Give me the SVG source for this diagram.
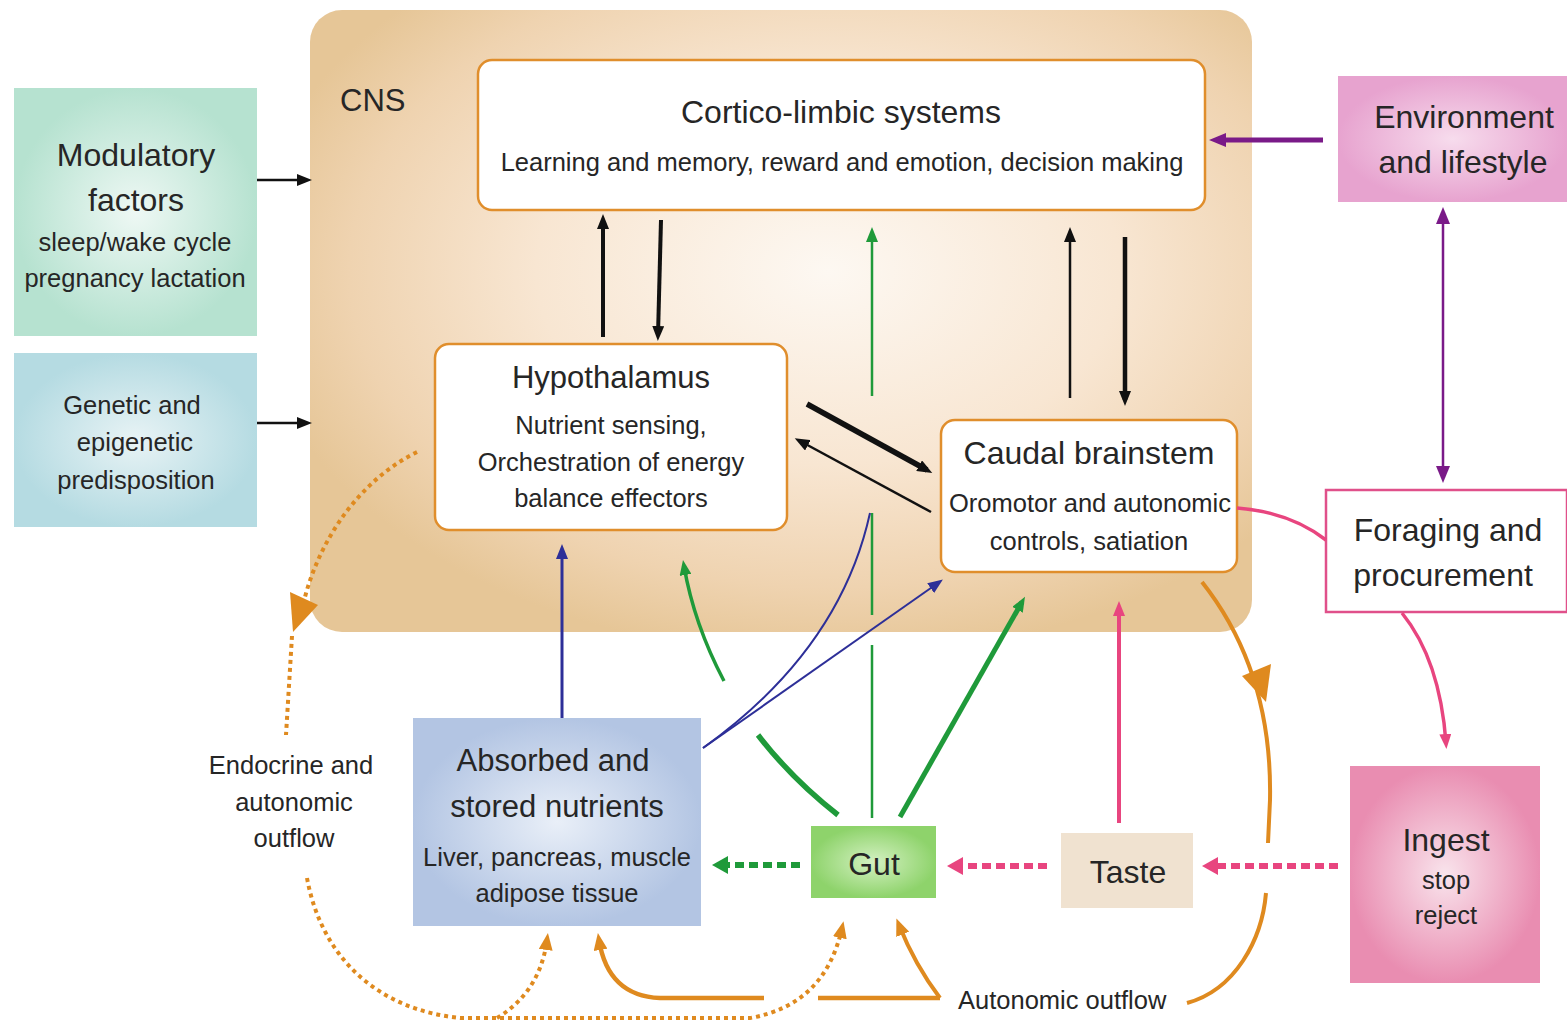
<svg xmlns="http://www.w3.org/2000/svg" width="1567" height="1024" viewBox="0 0 1567 1024">
<style>
text{font-family:"Liberation Sans",Arial,sans-serif;fill:#262626;text-anchor:middle}
.t{font-size:31px}
.b{font-size:25.5px}
.inner{fill:#fff;stroke:#e08e2c;stroke-width:2.5}
.k{stroke:#111;fill:none}
.g{stroke:#1f9a3a;fill:none}
.bl{stroke:#2d2f98;fill:none}
.pk{stroke:#e8457f;fill:none}
.pu{stroke:#7a1a88;fill:none}
.o{stroke:#df8a1f;fill:none}
.dot{stroke-dasharray:4 4}
.pdot{stroke-dasharray:9 5}
</style>
<defs>
<radialGradient id="cns" cx="0.55" cy="0.42" r="0.62">
<stop offset="0" stop-color="#fdf8f2"/>
<stop offset="0.5" stop-color="#f8e6d2"/>
<stop offset="0.82" stop-color="#efd3b0"/>
<stop offset="1" stop-color="#e6c697"/>
</radialGradient>
<radialGradient id="gMod"><stop offset="0" stop-color="#eef8f4"/><stop offset="1" stop-color="#b6e2d0"/></radialGradient>
<radialGradient id="gGen"><stop offset="0" stop-color="#e8f3f5"/><stop offset="1" stop-color="#b5dbe2"/></radialGradient>
<radialGradient id="gEnv"><stop offset="0" stop-color="#f7dced"/><stop offset="1" stop-color="#e7a3cf"/></radialGradient>
<radialGradient id="gIng"><stop offset="0" stop-color="#f9e4ec"/><stop offset="1" stop-color="#e98db1"/></radialGradient>
<radialGradient id="gAbs"><stop offset="0" stop-color="#e9eff8"/><stop offset="1" stop-color="#b3c5e3"/></radialGradient>
<radialGradient id="gGut"><stop offset="0" stop-color="#d4f1c2"/><stop offset="1" stop-color="#8ed36b"/></radialGradient>
<marker id="mk" markerUnits="userSpaceOnUse" markerWidth="16" markerHeight="12" refX="9" refY="6" orient="auto"><path d="M0,0 L15,6 L0,12 z" fill="#111"/></marker>
<marker id="mg" markerUnits="userSpaceOnUse" markerWidth="16" markerHeight="12" refX="9" refY="6" orient="auto"><path d="M0,0 L15,6 L0,12 z" fill="#1f9a3a"/></marker>
<marker id="mgd" markerUnits="userSpaceOnUse" markerWidth="18" markerHeight="18" refX="6" refY="9" orient="auto"><path d="M0,0 L16,9 L0,18 z" fill="#1f9a3a"/></marker>
<marker id="mb" markerUnits="userSpaceOnUse" markerWidth="16" markerHeight="12" refX="9" refY="6" orient="auto"><path d="M0,0 L15,6 L0,12 z" fill="#2d2f98"/></marker>
<marker id="mp" markerUnits="userSpaceOnUse" markerWidth="16" markerHeight="12" refX="9" refY="6" orient="auto"><path d="M0,0 L15,6 L0,12 z" fill="#e8457f"/></marker>
<marker id="mpd" markerUnits="userSpaceOnUse" markerWidth="18" markerHeight="18" refX="6" refY="9" orient="auto"><path d="M0,0 L16,9 L0,18 z" fill="#e8457f"/></marker>
<marker id="mu" markerUnits="userSpaceOnUse" markerWidth="18" markerHeight="14" refX="10" refY="7" orient="auto-start-reverse"><path d="M0,0 L17,7 L0,14 z" fill="#7a1a88"/></marker>
<marker id="mo" markerUnits="userSpaceOnUse" markerWidth="18" markerHeight="14" refX="10" refY="7" orient="auto"><path d="M0,0 L17,7 L0,14 z" fill="#df8a1f"/></marker>
</defs>
<rect width="1567" height="1024" fill="#fff"/>

<g id="cns">
<rect x="310" y="10" width="942" height="622" rx="32" fill="url(#cns)"/>
<text x="340" y="111" style="font-size:31px;text-anchor:start">CNS</text>
</g>

<g id="cortico">
<rect class="inner" x="478" y="60" width="727" height="150" rx="14"/>
<text class="t" x="841" y="123" style="font-size:32px">Cortico-limbic systems</text>
<text class="b" x="842" y="171">Learning and memory, reward and emotion, decision making</text>
</g>

<g id="hypothalamus">
<rect class="inner" x="435" y="344" width="352" height="186" rx="14"/>
<text class="t" x="611" y="388">Hypothalamus</text>
<text class="b" x="611" y="434">Nutrient sensing,</text>
<text class="b" x="611" y="471">Orchestration of energy</text>
<text class="b" x="611" y="507">balance effectors</text>
</g>

<g id="caudal">
<rect class="inner" x="941" y="420" width="296" height="152" rx="14"/>
<text class="t" x="1089" y="464" style="font-size:32px">Caudal brainstem</text>
<text class="b" x="1090" y="512">Oromotor and autonomic</text>
<text class="b" x="1089" y="550">controls, satiation</text>
</g>

<g id="modulatory">
<rect x="14" y="88" width="243" height="248" fill="url(#gMod)"/>
<text class="t" x="136" y="166" style="font-size:32px">Modulatory</text>
<text class="t" x="136" y="211" style="font-size:32px">factors</text>
<text class="b" x="135" y="251">sleep/wake cycle</text>
<text class="b" x="135" y="287">pregnancy lactation</text>
</g>

<g id="genetic">
<rect x="14" y="353" width="243" height="174" fill="url(#gGen)"/>
<text class="b" x="132" y="414">Genetic and</text>
<text class="b" x="135" y="451">epigenetic</text>
<text class="b" x="136" y="489">predisposition</text>
</g>

<g id="environment">
<rect x="1338" y="76" width="229" height="126" fill="url(#gEnv)"/>
<text class="t" x="1464" y="128" style="font-size:32px">Environment</text>
<text class="t" x="1463" y="173" style="font-size:32px">and lifestyle</text>
</g>

<g id="foraging">
<rect x="1326" y="490" width="241" height="122" fill="#fff" stroke="#e0508a" stroke-width="2.5"/>
<text class="t" x="1448" y="541" style="font-size:32px">Foraging and</text>
<text class="t" x="1443" y="586" style="font-size:32px">procurement</text>
</g>

<g id="ingest">
<rect x="1350" y="766" width="190" height="217" fill="url(#gIng)"/>
<text class="t" x="1446" y="851" style="font-size:32px">Ingest</text>
<text class="b" x="1446" y="889">stop</text>
<text class="b" x="1446" y="924">reject</text>
</g>

<g id="taste">
<rect x="1061" y="833" width="132" height="75" fill="#f0e2d0"/>
<text class="t" x="1128" y="883" style="font-size:32px">Taste</text>
</g>

<g id="gut">
<rect x="811" y="826" width="125" height="72" fill="url(#gGut)"/>
<text class="t" x="874" y="875" style="font-size:32px">Gut</text>
</g>

<g id="absorbed">
<rect x="413" y="718" width="288" height="208" fill="url(#gAbs)"/>
<text class="t" x="553" y="771">Absorbed and</text>
<text class="t" x="557" y="817">stored nutrients</text>
<text class="b" x="557" y="866">Liver, pancreas, muscle</text>
<text class="b" x="557" y="902">adipose tissue</text>
</g>

<g id="endocrine-label">
<text class="b" x="291" y="774">Endocrine and</text>
<text class="b" x="294" y="811">autonomic</text>
<text class="b" x="294" y="847">outflow</text>
</g>

<g id="autonomic-label">
<text class="b" x="958" y="1009" style="text-anchor:start">Autonomic outflow</text>
</g>

<g id="connectors">
<!-- black -->
<path class="k" d="M257 180 L306 180" stroke-width="2.5" marker-end="url(#mk)"/>
<path class="k" d="M257 423 L306 423" stroke-width="2.5" marker-end="url(#mk)"/>
<path class="k" d="M603 337 L603 220" stroke-width="4" marker-end="url(#mk)"/>
<path class="k" d="M661 220 L658 335" stroke-width="4" marker-end="url(#mk)"/>
<path class="k" d="M1070 398 L1070 233" stroke-width="2.5" marker-end="url(#mk)"/>
<path class="k" d="M1125 237 L1125 400" stroke-width="4.5" marker-end="url(#mk)"/>
<path class="k" d="M807 404 L927 470" stroke-width="5.5" marker-end="url(#mk)"/>
<path class="k" d="M931 512 L800 441" stroke-width="2.5" marker-end="url(#mk)"/>
<!-- purple -->
<path class="pu" d="M1323 140 L1216 140" stroke-width="5" marker-end="url(#mu)"/>
<path class="pu" d="M1443 214 L1443 476" stroke-width="2.5" marker-start="url(#mu)" marker-end="url(#mu)"/>
<!-- pink -->
<path class="pk" d="M1237 508 Q1290 512 1326 540" stroke-width="3.5"/>
<path class="pk" d="M1402 613 Q1440 660 1446 743" stroke-width="3.5" marker-end="url(#mp)"/>
<path class="pk" d="M1119 823 L1119 607" stroke-width="4" marker-end="url(#mp)"/>
<path class="pk pdot" d="M1338 866 L1212 866" stroke-width="6" marker-end="url(#mpd)"/>
<path class="pk pdot" d="M1047 866 L957 866" stroke-width="6" marker-end="url(#mpd)"/>
<!-- green -->
<path class="g" d="M872 818 L872 645 M872 615 L872 513" stroke-width="2.5"/>
<path class="g" d="M872 396 L872 233" stroke-width="2.5" marker-end="url(#mg)"/>
<path class="g" d="M838 815 Q792 779 758 735" stroke-width="5.5"/>
<path class="g" d="M724 681 Q694 624 684 566" stroke-width="3.5" marker-end="url(#mg)"/>
<path class="g" d="M900 817 L1022 602" stroke-width="5" marker-end="url(#mg)"/>
<path class="g pdot" d="M800 865 L722 865" stroke-width="6" marker-end="url(#mgd)"/>
<!-- blue -->
<path class="bl" d="M562 718 L562 550" stroke-width="3" marker-end="url(#mb)"/>
<path class="bl" d="M703 748 L938 583" stroke-width="2" marker-end="url(#mb)"/>
<path class="bl" d="M703 748 Q840 650 870 513" stroke-width="2"/>
<!-- orange -->
<path class="o" d="M1202 582 C1240 630 1272 700 1270 800 L1268 843" stroke-width="4"/>
<polygon points="1242,676 1271,664 1266,702" fill="#df8a1f"/>
<path class="o" d="M1266 893 C1262 940 1235 990 1187 1003" stroke-width="4"/>
<path class="o" d="M940 998 L818 998" stroke-width="4.5"/>
<path class="o" d="M764 998 L660 998 Q608 996 599 940" stroke-width="4.5" marker-end="url(#mo)"/>
<path class="o" d="M940 998 Q915 965 899 925" stroke-width="4" marker-end="url(#mo)"/>
<path class="o dot" d="M417 452 C360 480 318 540 303 605" stroke-width="4"/>
<polygon points="290,592 318,605 293,632" fill="#df8a1f"/>
<path class="o dot" d="M292 636 L286 735" stroke-width="4"/>
<path class="o dot" d="M307 878 C322 960 380 1010 460 1018 L750 1018 Q825 1005 842 928" stroke-width="4" marker-end="url(#mo)"/>
<path class="o dot" d="M497 1018 Q540 992 547 940" stroke-width="4" marker-end="url(#mo)"/>
</g>
</svg>
